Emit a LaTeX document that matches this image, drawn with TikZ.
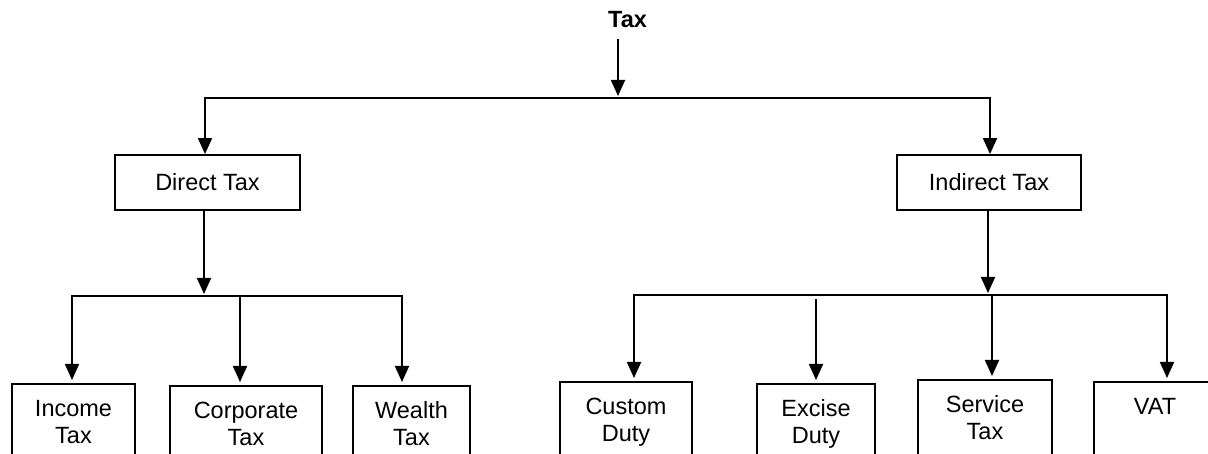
\documentclass[tikz,border=0pt]{standalone}
\usepackage{fontspec}
\setmainfont{Liberation Sans}
\usetikzlibrary{arrows.meta}
\begin{document}
\begin{tikzpicture}[x=1pt,y=-1pt, line width=1.8pt,
  arr/.style={-{Triangle[width=14pt,length=16pt]}},
  txt/.style={font=\fontsize{23.5}{27}\selectfont},
  box/.style={draw, txt, inner sep=0pt, minimum height=55pt},
  leaf/.style={draw, txt, anchor=north, align=center, inner xsep=0pt, inner ysep=16pt, text depth=120pt}]
\useasboundingbox (0,0) rectangle (1208,454);
\clip (0,0) rectangle (1208,454);
% top
\node[anchor=base, inner sep=0pt, font=\fontsize{23.5}{27}\selectfont\bfseries] (tax) at (627.5,28) {Tax};
\coordinate (t1) at (618,98);
\coordinate (bl) at (205,98);
\coordinate (br) at (990,98);
\node[box, minimum width=185pt] (dir) at (207.5,182.5) {Direct Tax};
\node[box, minimum width=184pt] (ind) at (989,182.5) {Indirect Tax};
\draw[arr, shorten <=10pt, shorten >=2pt] (tax.south -| t1) -- (t1);
\draw[arr] (t1) -- (bl) -- (bl |- dir.north);
\draw[arr] (t1) -- (br) -- (br |- ind.north);
% leaves
\node[leaf, minimum width=123pt] (inc) at (73.5,383) {Income\\Tax};
\node[leaf, minimum width=152pt] (cor) at (246,385) {Corporate\\Tax};
\node[leaf, minimum width=117pt] (wea) at (411.5,385) {Wealth\\Tax};
\node[leaf, minimum width=132pt] (cus) at (626,381) {Custom\\Duty};
\node[leaf, minimum width=118pt] (exc) at (816,383) {Excise\\Duty};
\node[leaf, minimum width=134pt] (ser) at (985,379) {Service\\Tax};
\node[leaf, minimum width=122pt] (vat) at (1155,381) {VAT};
% direct branch
\coordinate (dm) at (204,296);
\coordinate (d1) at (72,296);
\coordinate (d2) at (240,296);
\coordinate (d3) at (402,296);
\draw[arr, shorten >=2pt] (dir.south -| dm) -- (dm);
\draw[arr, shorten >=3pt] (dm) -- (d1) -- (d1 |- inc.north);
\draw[arr, shorten >=3pt] (dm) -- (d3) -- (d3 |- wea.north);
\draw[arr, shorten >=3pt] (d2) -- (d2 |- cor.north);
% indirect branch
\coordinate (im) at (988,295);
\coordinate (e1) at (634,295);
\coordinate (e2) at (816,299);
\coordinate (e3) at (992,295);
\coordinate (e4) at (1167,295);
\draw[arr, shorten >=2pt] (ind.south -| im) -- (im);
\draw[arr, shorten >=3pt] (im) -- (e1) -- (e1 |- cus.north);
\draw[arr, shorten >=3pt] (im) -- (e4) -- (e4 |- vat.north);
\draw[arr, shorten >=3pt] (e2) -- (e2 |- exc.north);
\draw[arr, shorten >=3pt] (e3) -- (e3 |- ser.north);
\end{tikzpicture}
\end{document}
